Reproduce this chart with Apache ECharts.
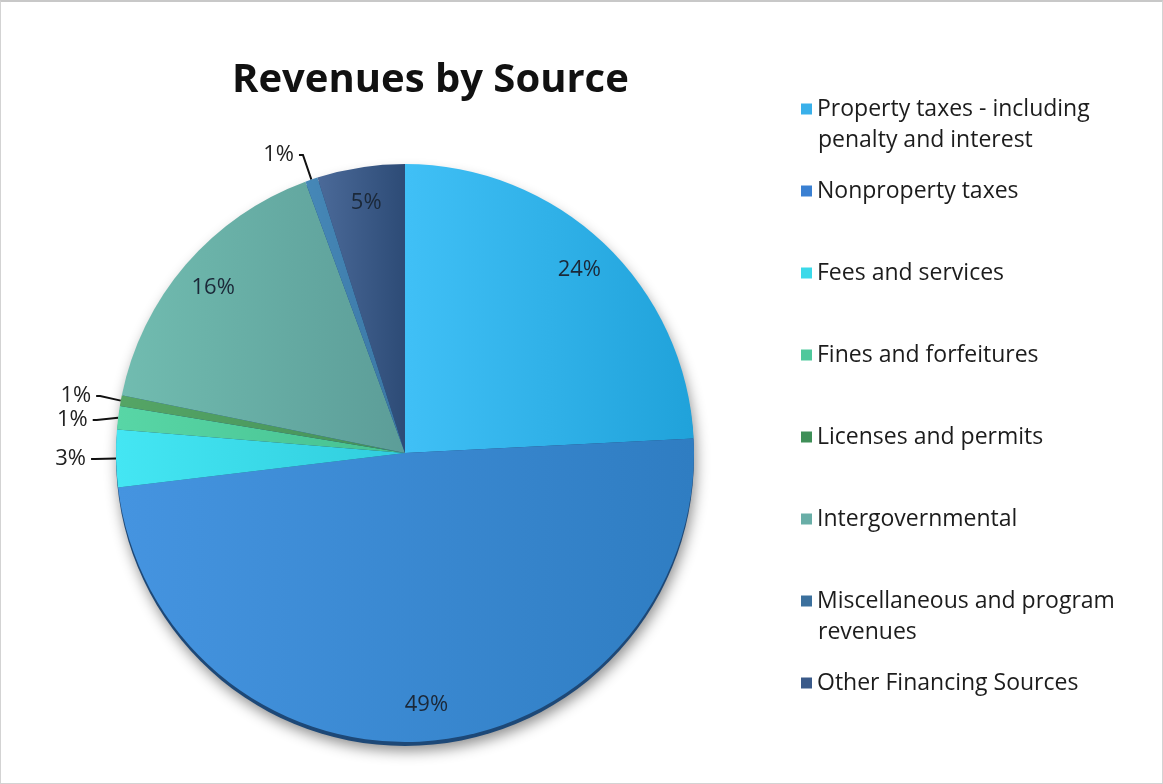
<!DOCTYPE html>
<html>
<head>
<meta charset="utf-8">
<script src="https://cdn.jsdelivr.net/npm/echarts@6/dist/echarts.min.js"></script>
<style>
  html, body { margin: 0; padding: 0; background: #fff; }
  #chart { width: 1163px; height: 784px; box-sizing: border-box; border: 1px solid #d3d3d3; border-top: 2px solid #c8c8c8; }
</style>
</head>
<body>
<div id="chart"></div>
<script>
// Revenue categories, in clockwise order from 12 o'clock
const categories = [
  'Property taxes - including penalty and interest',
  'Nonproperty taxes',
  'Fees and services',
  'Fines and forfeitures',
  'Licenses and permits',
  'Intergovernmental',
  'Miscellaneous and program revenues',
  'Other Financing Sources'
];

// Legend text, wrapped the way it is printed
const legendLabels = [
  'Property taxes - including\npenalty and interest',
  'Nonproperty taxes',
  'Fees and services',
  'Fines and forfeitures',
  'Licenses and permits',
  'Intergovernmental',
  'Miscellaneous and program\nrevenues',
  'Other Financing Sources'
];

// Share of total revenues (%)
const values = [24.2, 48.9, 3.2, 1.3, 0.6, 16.2, 0.7, 4.9];

// Slice shading: [light edge, dark edge]
const sliceColors = [
  ['#40c0f6', '#20a2da'],
  ['#4594e0', '#2f7dc2'],
  ['#44e6f3', '#30cddd'],
  ['#58d6a6', '#46c08f'],
  ['#55a565', '#44905a'],
  ['#71bcb0', '#5c9d98'],
  ['#4688b8', '#3a76a3'],
  ['#4b6a99', '#2d4b76']
];
const legendColors = ['#39b0ea', '#3a80d2', '#3bd9e9', '#4fc89c', '#3f8f58', '#69aea7', '#3b709d', '#3a5a89'];

const SMALL = 4; // slices under this share get an outside label with a leader line

const cx = 404, cy = 451, R = 289;
const chart = echarts.init(document.getElementById('chart'));

const total = values.reduce((a, b) => a + b, 0);
const fmt = p => Math.round(p.percent) + '%';
const FONT = 'Open Sans';

const sliceData = categories.map((name, i) => ({
  name,
  value: values[i],
  itemStyle: {
    color: new echarts.graphic.LinearGradient(0, 0, 1, 0, [
      { offset: 0, color: sliceColors[i][0] },
      { offset: 1, color: sliceColors[i][1] }
    ])
  },
  label: { show: values[i] < SMALL },
  labelLine: { show: values[i] < SMALL }
}));

const innerLabelData = categories.map((name, i) => ({
  name,
  value: values[i],
  label: { show: values[i] >= SMALL }
}));

// One legend block per item so the rows keep an even pitch;
// wrapped names continue on a second line underneath.
const rowPitch = 82, firstRowY = 102, lineH = 33, textX = 817, legendFont = 23;
const legends = [];
const continuation = [];
categories.forEach((name, i) => {
  const lines = legendLabels[i].split('\n');
  const centerY = firstRowY + i * rowPitch;
  legends.push({
    data: [{ name, itemStyle: { color: legendColors[i] } }],
    left: 795,
    top: centerY - lineH / 2,
    icon: 'rect',
    itemWidth: 11,
    itemHeight: 11,
    itemGap: 0,
    selectedMode: false,
    formatter: () => lines[0],
    textStyle: { fontFamily: FONT, fontSize: legendFont, color: '#1c1c1c', lineHeight: lineH }
  });
  lines.slice(1).forEach((ln, k) => {
    continuation.push({
      type: 'text',
      left: textX,
      top: centerY + (k + 1) * 34 - lineH / 2 + 2,
      style: { text: ln, font: legendFont + 'px "' + FONT + '"', fill: '#1c1c1c', lineHeight: lineH }
    });
  });
});

chart.setOption({
  backgroundColor: '#ffffff',
  animation: false,
  title: {
    text: 'Revenues by Source',
    left: 226,
    top: 54,
    textStyle: { fontFamily: FONT, fontWeight: 'bold', fontSize: 40, color: '#111' }
  },
  legend: legends,
  graphic: continuation,
  series: [
    {
      // dark rim and drop shadow under the pie
      type: 'pie',
      name: 'base',
      silent: true,
      z: 1,
      center: [cx, cy + 4],
      radius: [0, R],
      label: { show: false },
      labelLine: { show: false },
      itemStyle: {
        color: '#1d4877',
        shadowBlur: 14,
        shadowOffsetX: 2,
        shadowOffsetY: 5,
        shadowColor: 'rgba(0,0,0,0.45)'
      },
      data: [{ name: 'Total', value: total }]
    },
    {
      type: 'pie',
      name: 'Revenues',
      z: 2,
      center: [cx, cy],
      radius: [0, R],
      startAngle: 90,
      clockwise: true,
      avoidLabelOverlap: true,
      label: {
        position: 'outside',
        formatter: fmt,
        fontFamily: FONT,
        fontSize: 22,
        color: '#222'
      },
      labelLine: {
        length: 26,
        length2: 4,
        lineStyle: { color: '#111', width: 2 }
      },
      itemStyle: { borderWidth: 0 },
      emphasis: { disabled: true },
      data: sliceData
    },
    {
      // percentage labels printed inside the larger slices
      type: 'pie',
      name: 'Revenues labels',
      silent: true,
      z: 3,
      center: [cx, cy],
      radius: [R * 0.73, R],
      startAngle: 90,
      clockwise: true,
      itemStyle: { color: 'rgba(0,0,0,0)' },
      label: {
        position: 'inner',
        formatter: fmt,
        fontFamily: FONT,
        fontSize: 22,
        color: '#1b2838'
      },
      labelLine: { show: false },
      data: innerLabelData
    }
  ]
});
</script>
</body>
</html>
